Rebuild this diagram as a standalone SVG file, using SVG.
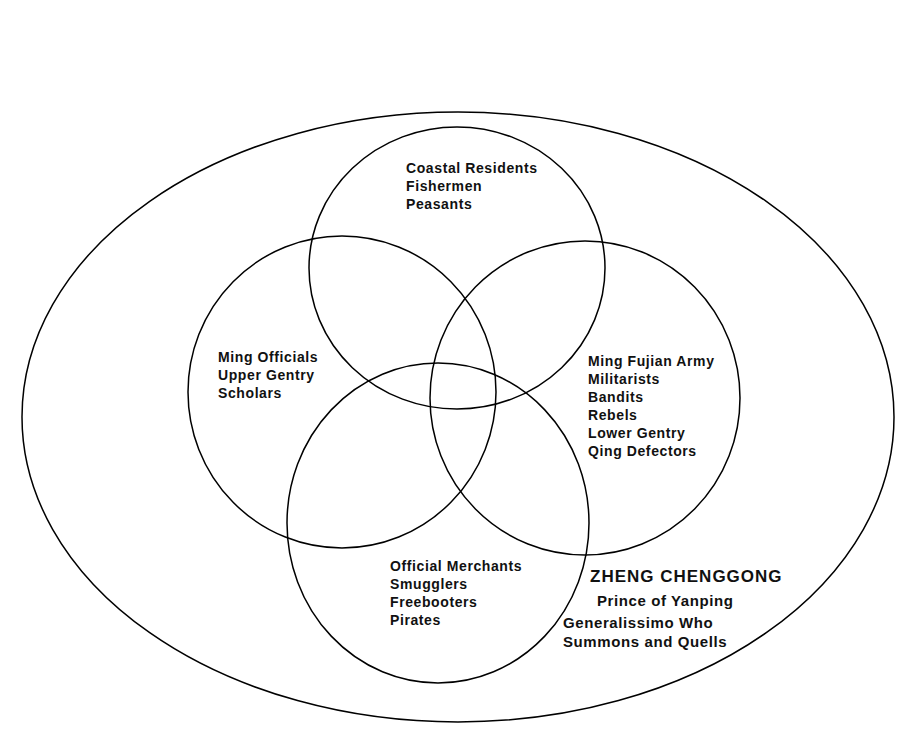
<svg xmlns="http://www.w3.org/2000/svg" width="909" height="749" viewBox="0 0 909 749">
<style>
.c{fill:none;stroke:#000;stroke-width:1.5}
text{font-family:"Liberation Sans",Arial,sans-serif;font-weight:bold;font-size:14px;letter-spacing:0.6px;fill:#111}
.b{font-size:17px;letter-spacing:1px}
.m{font-size:15px;letter-spacing:0.6px}
</style>
<rect width="909" height="749" fill="#fff"/>
<g id="connectors"></g>
<g id="outer"><ellipse class="c" cx="458" cy="417" rx="436" ry="305"/></g>
<g id="top"><ellipse class="c" cx="457" cy="268" rx="148" ry="141"/>
<text x="406" y="173">Coastal Residents</text><text x="406" y="191">Fishermen</text><text x="406" y="209">Peasants</text></g>
<g id="left"><ellipse class="c" cx="342" cy="392" rx="154" ry="156"/>
<text x="218" y="362">Ming Officials</text><text x="218" y="380">Upper Gentry</text><text x="218" y="398">Scholars</text></g>
<g id="right"><ellipse class="c" cx="585" cy="398" rx="155" ry="157"/>
<text x="588" y="366">Ming Fujian Army</text><text x="588" y="384">Militarists</text><text x="588" y="402">Bandits</text><text x="588" y="420">Rebels</text><text x="588" y="438">Lower Gentry</text><text x="588" y="456">Qing Defectors</text></g>
<g id="bottom"><ellipse class="c" cx="438" cy="523" rx="151" ry="160"/>
<text x="390" y="571">Official Merchants</text><text x="390" y="589">Smugglers</text><text x="390" y="607">Freebooters</text><text x="390" y="625">Pirates</text></g>
<g id="zheng"><text class="b" x="590" y="582">ZHENG CHENGGONG</text>
<text class="m" x="597" y="606">Prince of Yanping</text>
<text class="m" x="563" y="628">Generalissimo Who</text>
<text class="m" x="563" y="647">Summons and Quells</text></g>
</svg>
